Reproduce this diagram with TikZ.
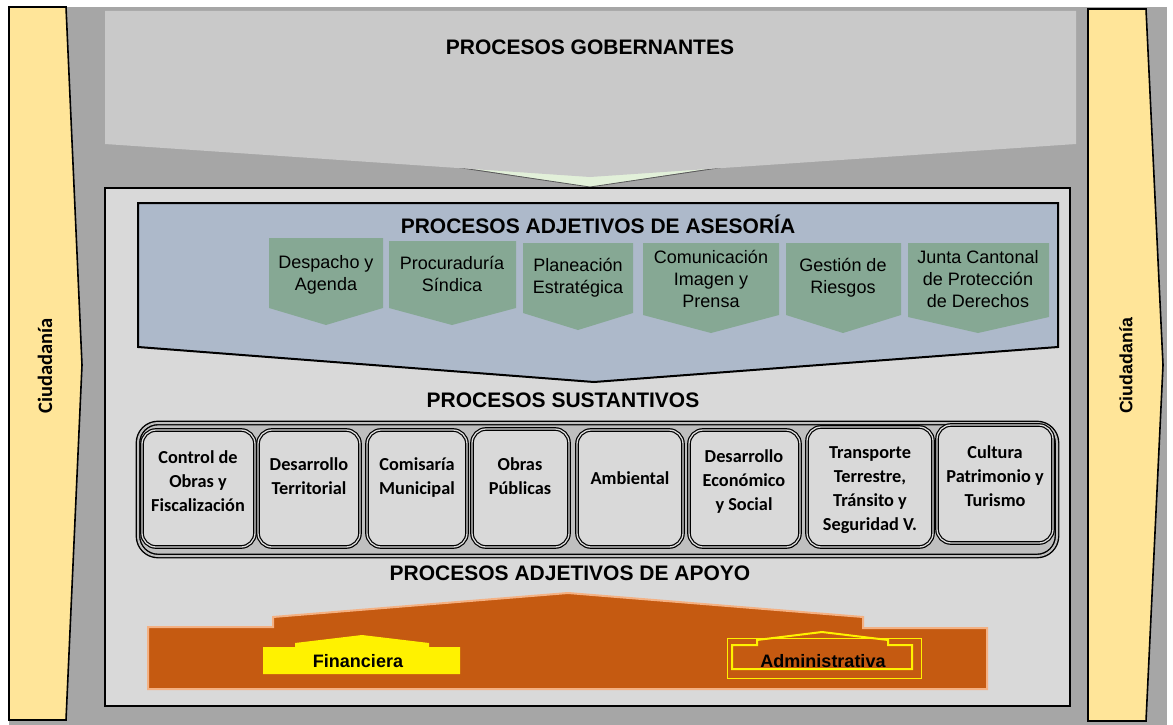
\documentclass[tikz,border=0pt]{standalone}
\usepackage{fontspec}
\setmainfont{Liberation Sans}
\newfontfamily\calfont{Carlito}
\definecolor{bgdark}{HTML}{A6A6A6}
\definecolor{govgray}{HTML}{C9C9C9}
\definecolor{midgray}{HTML}{D9D9D9}
\definecolor{bluegray}{HTML}{ADB9CA}
\definecolor{chevgreen}{HTML}{86A894}
\definecolor{citizen}{HTML}{FFE599}
\definecolor{orangefill}{HTML}{C55A11}
\definecolor{orangeline}{HTML}{F4B183}
\definecolor{paleg}{HTML}{E2F0D9}
\definecolor{bandgray}{HTML}{BFBFBF}
\tikzset{
  chev/.style={fill=chevgreen, draw=none},
  chevtext/.style={font=\fontsize{18}{22}\selectfont, align=center, anchor=base, inner sep=0pt},
  bigtitle/.style={font=\fontsize{21}{25}\selectfont\bfseries, anchor=base, inner sep=0pt},
  susbox/.style={draw=black, line width=1.2pt, double=midgray, double distance=1.3pt, fill=midgray, rounded corners=14pt},
  sustext/.style={font=\calfont\bfseries\fontsize{18.3}{24}\selectfont, align=center, anchor=base, inner sep=0pt},
  citizenarrow/.style={fill=citizen, draw=black, line width=1.6pt, line join=miter},
  yellowtext/.style={font=\fontsize{18}{22}\selectfont\bfseries, anchor=base, inner sep=0pt}
}
\begin{document}
\begin{tikzpicture}[x=1pt,y=-1pt]
\useasboundingbox (0,0) rectangle (1173,725);
% background
\fill[bgdark] (9,7) rectangle (1167,725);
% citizen arrows
\draw[citizenarrow] (9,7) -- (66,7) -- (82,365) -- (66,720) -- (9,720) -- cycle;
\draw[citizenarrow] (1088,9) -- (1146,9) -- (1163,365) -- (1146,721) -- (1088,721) -- cycle;
\node[font=\calfont\bfseries\fontsize{20.5}{24}\selectfont, rotate=90, inner sep=0pt] (ciudL) at (45,366) {Ciudadanía};
\node[font=\bfseries\fontsize{17.8}{22}\selectfont, rotate=90, inner sep=0pt] (ciudR) at (1126,366) {Ciudadanía};
% gobernantes
\fill[paleg] (460,167) -- (590,187) -- (720,167) -- cycle;
\draw[gray!70!black, line width=0.8pt] (455,167) -- (590,187) -- (725,167);
\fill[govgray] (105,11) -- (1076,11) -- (1076,144) -- (590,177) -- (105,144) -- cycle;
\node[bigtitle] (gob) at (590,55) {PROCESOS GOBERNANTES};
% middle frame
\draw[fill=midgray, draw=black, line width=2pt] (105,188) rectangle (1070,706);
% asesoria
\draw[fill=bluegray, draw=black, line width=2pt, line join=miter] (138,203) -- (1058,203) -- (1058,347) -- (594,382) -- (138,347) -- cycle;
\node[bigtitle] (ases) at (598,233) {PROCESOS ADJETIVOS DE ASESORÍA};
\fill[chev] (269,238) -- (383,238) -- (383,308) -- (326,325) -- (269,308) -- cycle;
\fill[chev] (389,241) -- (516,241) -- (516,308) -- (452,325) -- (389,308) -- cycle;
\fill[chev] (523,243) -- (633,243) -- (633,313) -- (578,330) -- (523,313) -- cycle;
\fill[chev] (643,243) -- (779,243) -- (779,315) -- (711,333) -- (643,315) -- cycle;
\fill[chev] (786,243) -- (901,243) -- (901,315) -- (843,333) -- (786,315) -- cycle;
\fill[chev] (908,243) -- (1049,243) -- (1049,317) -- (978,333) -- (908,317) -- cycle;
% base anchor = baseline of the last line
\node[chevtext] (c1) at (326,290) {Despacho y\\Agenda};
\node[chevtext] (c2) at (452,291) {Procuraduría\\Síndica};
\node[chevtext] (c3) at (578,293) {Planeación\\Estratégica};
\node[chevtext] (c4) at (711,307) {Comunicación\\Imagen y\\Prensa};
\node[chevtext] (c5) at (843,293) {Gestión de\\Riesgos};
\node[chevtext] (c6) at (978,307) {Junta Cantonal\\de Protección\\de Derechos};
% sustantivos
\node[bigtitle] (sust) at (563,407) {PROCESOS SUSTANTIVOS};
\draw[draw=black, line width=1.4pt, double=bandgray, double distance=2pt, fill=bandgray, rounded corners=20pt] (138,423) rectangle (1057,556);
\draw[susbox] (142,430) rectangle (255,547);
\draw[susbox] (258,430) rectangle (360,547);
\draw[susbox] (367,430) rectangle (467,547);
\draw[susbox] (472,429) rectangle (569,547);
\draw[susbox] (577,430) rectangle (683,547);
\draw[susbox] (689,430) rectangle (800,547);
\draw[susbox] (807,427) rectangle (933,547);
\draw[susbox] (937,425) rectangle (1053,543);
\node[sustext] (s1) at (198,511) {Control de\\Obras y\\Fiscalización};
\node[sustext] (s2) at (309,494) {Desarrollo\\Territorial};
\node[sustext] (s3) at (417,494) {Comisaría\\Municipal};
\node[sustext] (s4) at (520,494) {Obras\\Públicas};
\node[sustext] (s5) at (630,484) {Ambiental};
\node[sustext] (s6) at (744,510) {Desarrollo\\Económico\\y Social};
\node[sustext] (s7) at (870,530) {Transporte\\Terrestre,\\Tránsito y\\Seguridad V.};
\node[sustext] (s8) at (995,506) {Cultura\\Patrimonio y\\Turismo};
% apoyo
\node[bigtitle] (apoyo) at (570,580) {PROCESOS ADJETIVOS DE APOYO};
\draw[fill=orangefill, draw=orangeline, line width=2pt, line join=miter] (148,627) -- (273,627) -- (273,617) -- (568,593) -- (863,617) -- (863,628) -- (987,628) -- (987,689) -- (148,689) -- cycle;
\fill[yellow] (263,674) -- (263,647) -- (295,647) -- (295,643) -- (362,635) -- (429,643) -- (429,647) -- (460,647) -- (460,674) -- cycle;
\node[yellowtext] (fin) at (358,667) {Financiera};
\draw[yellow, line width=1pt] (727,638) rectangle (921,678);
\draw[yellow, line width=2pt, line join=miter] (732,669) -- (732,645) -- (757,645) -- (757,640) -- (822,632) -- (888,640) -- (888,645) -- (912,645) -- (912,669) -- cycle;
\node[yellowtext] (adm) at (823,667) {Administrativa};
\end{tikzpicture}
\end{document}
